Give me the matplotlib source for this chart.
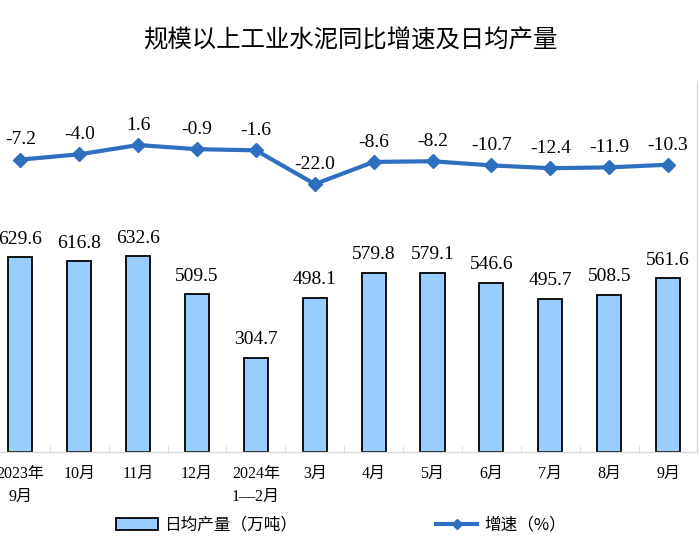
import numpy as np
from matplotlib import pyplot as plt
from matplotlib.patches import Patch
from matplotlib.lines import Line2D

plt.rcParams['font.family'] = ['Liberation Serif', 'Noto Sans CJK SC', 'DejaVu Sans']
plt.rcParams['axes.unicode_minus'] = False

# data
months = ['2023年\n9月', '10月', '11月', '12月', '2024年\n1—2月', '3月',
          '4月', '5月', '6月', '7月', '8月', '9月']
daily_output = [629.6, 616.8, 632.6, 509.5, 304.7, 498.1,
                579.8, 579.1, 546.6, 495.7, 508.5, 561.6]
growth = [-7.2, -4.0, 1.6, -0.9, -1.6, -22.0,
          -8.6, -8.2, -10.7, -12.4, -11.9, -10.3]

bar_color = '#99CCFF'
line_color = '#2E6FC0'
axis_gray = '#D9D9D9'

fig = plt.figure(figsize=(7, 5.5), dpi=100)
# plot area is slightly cut off on the left, like the source image
ax = fig.add_axes([-0.0129, 0.178, 1.0093, 0.675])
x = np.arange(len(months))

# bars: daily output
bars = ax.bar(x, daily_output, width=0.41, color=bar_color,
              edgecolor='black', linewidth=1.3, zorder=2)
ax.set_xlim(-0.5, len(months) - 0.5)
ax.set_ylim(0, 1200)
for xi, v in zip(x, daily_output):
    ax.annotate(f'{v:.1f}', (xi, v), xytext=(0, 7), textcoords='offset points',
                ha='center', va='bottom', fontsize=14,
                family=['Liberation Serif'])

# axes frame: only bottom and right in light gray
for side in ['left', 'top']:
    ax.spines[side].set_visible(False)
for side in ['bottom', 'right']:
    ax.spines[side].set_color(axis_gray)
    ax.spines[side].set_linewidth(1.0)
ax.yaxis.tick_right()
ax.set_yticks([0, 300, 600, 900, 1200])
ax.tick_params(axis='y', direction='in', length=5, color=axis_gray,
               labelright=False, labelleft=False)
ax.set_xticks(x)
ax.set_xticklabels(months, fontsize=11.5, linespacing=1.55,
                   family=['Liberation Serif', 'Noto Sans CJK SC'])
ax.tick_params(axis='x', which='major', length=0, pad=10)
ax.set_xticks(np.arange(-0.5, len(months), 1), minor=True)
ax.tick_params(axis='x', which='minor', direction='in', length=5,
               color=axis_gray)

# line: year-on-year growth on a secondary scale
ax2 = ax.twinx()
ax2.plot(x, growth, color=line_color, linewidth=3, marker='D',
         markersize=7, zorder=3)
ax2.set_ylim(-184, 40.4)
ax2.set_yticks([])
for side in ax2.spines:
    ax2.spines[side].set_visible(False)
for xi, v in zip(x, growth):
    ax2.annotate(f'{v:.1f}', (xi, v), xytext=(0, 8), textcoords='offset points',
                 ha='center', va='bottom', fontsize=14,
                 family=['Liberation Serif'])

fig.text(0.5, 0.927, '规模以上工业水泥同比增速及日均产量', ha='center', va='center',
         fontsize=17.6, family=['Noto Sans CJK SC'], fontweight='medium')

# legend below the chart
handles = [Patch(facecolor=bar_color, edgecolor='black', linewidth=1.3),
           Line2D([], [], color=line_color, linewidth=3, marker='D', markersize=5)]
labels = ['日均产量（万吨）', '增速（%）']
fig.legend(handles, labels, loc='center', bbox_to_anchor=(0.487, 0.045),
           ncol=2, frameon=False, handlelength=2.5, handletextpad=0.4,
           columnspacing=8.3, prop={'family': ['Noto Sans CJK SC'], 'size': 12})

fig.savefig('out.png', dpi=100)
